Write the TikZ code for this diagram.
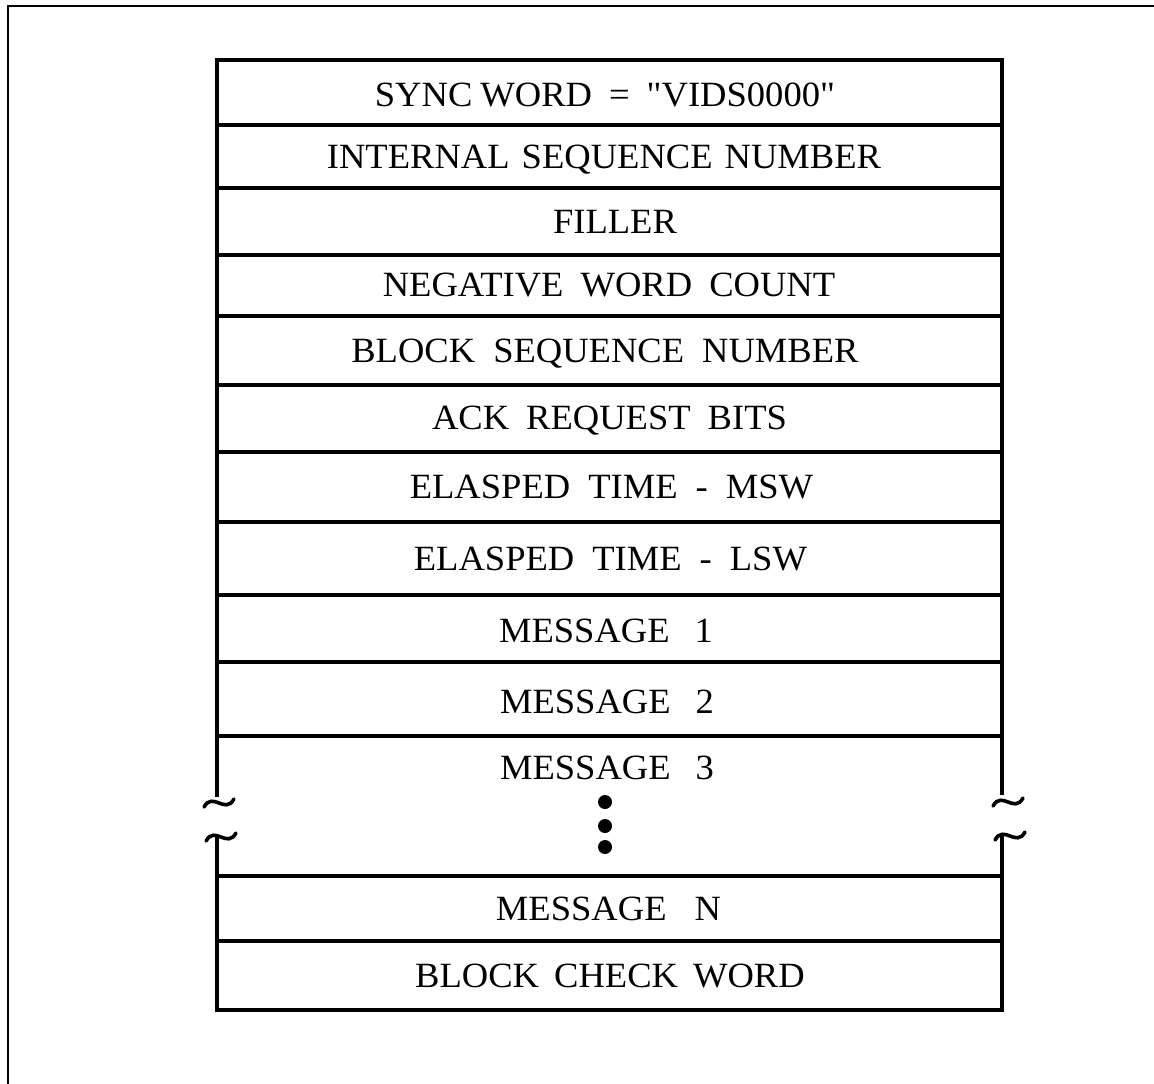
\documentclass[tikz,border=0pt]{standalone}
\usepackage{fontspec}
\setmainfont{Liberation Serif}[FakeStretch=1.03]
\newfontfamily\rawq{Liberation Serif}[FakeStretch=1.03]
\newcommand{\gp}[1]{\hspace{#1pt}}
\newcommand{\dq}{{\rawq"}}
\begin{document}
\begin{tikzpicture}[x=1pt,y=-1pt,
  tbl/.style={line width=3.6pt,line cap=rect},
  frm/.style={line width=2.4pt},
  lbl/.style={font=\fontsize{35.5}{35.5}\selectfont,text height=23.5pt,text depth=0pt,inner sep=0pt,anchor=center},
  tild/.style={line width=3.6pt,line cap=round},
  dotmark/.style={circle,fill=black,minimum size=14pt,inner sep=0pt}]
\useasboundingbox (0,0) rectangle (1154,1084);
% outer frame (top and left edge only visible)
\draw[frm] (8,1084) -- (8,6) -- (1154,6);
% table coordinates
\def\xl{217}\def\xr{1002}
% horizontal lines
\foreach \y in {60,125,188,255,316,385,452,522,595,662,736,876,941,1010}
  \draw[tbl] (\xl,\y) -- (\xr,\y);
% vertical sides with break
\draw[tbl] (\xl,60) -- (\xl,795);
\draw[tbl] (\xl,838) -- (\xl,1010);
\draw[tbl] (\xr,60) -- (\xr,793);
\draw[tbl] (\xr,838) -- (\xr,1010);
% break tildes
\foreach \x/\y in {219/803, 221/837, 1008/802, 1010/836}
  \draw[tild] (\x-15,\y+4) .. controls (\x-6,\y-12) and (\x+6,\y+12) .. (\x+15,\y-4);
% labels
\node[lbl] (r1) at (605,95) {SYNC\gp{8}WORD\gp{17}=\gp{17}\dq VIDS0000\dq};
\node[lbl] (r2) at (604,157) {INTERNAL\gp{12}SEQUENCE\gp{12}NUMBER};
\node[lbl] (r3) at (615,222) {FILLER};
\node[lbl] (r4) at (609,285) {NEGATIVE\gp{17}WORD\gp{17}COUNT};
\node[lbl] (r5) at (605,351) {BLOCK\gp{18}SEQUENCE\gp{18}NUMBER};
\node[lbl] (r6) at (609.5,418) {ACK\gp{17}REQUEST\gp{17}BITS};
\node[lbl] (r7) at (611.5,487) {ELASPED\gp{18}TIME\gp{18}-\gp{18}MSW};
\node[lbl] (r8) at (610.5,559) {ELASPED\gp{18}TIME\gp{18}-\gp{18}LSW};
\node[lbl] (r9) at (606,631) {MESSAGE\gp{25}1};
\node[lbl] (r10) at (607,702) {MESSAGE\gp{25}2};
\node[lbl] (r11) at (607,768) {MESSAGE\gp{25}3};
\node[dotmark] (d1) at (605,802) {};
\node[dotmark] (d2) at (605,826) {};
\node[dotmark] (d3) at (605,847) {};
\node[lbl] (r12) at (608.5,909) {MESSAGE\gp{28}N};
\node[lbl] (r13) at (610,976) {BLOCK\gp{15}CHECK\gp{15}WORD};
\end{tikzpicture}
\end{document}
